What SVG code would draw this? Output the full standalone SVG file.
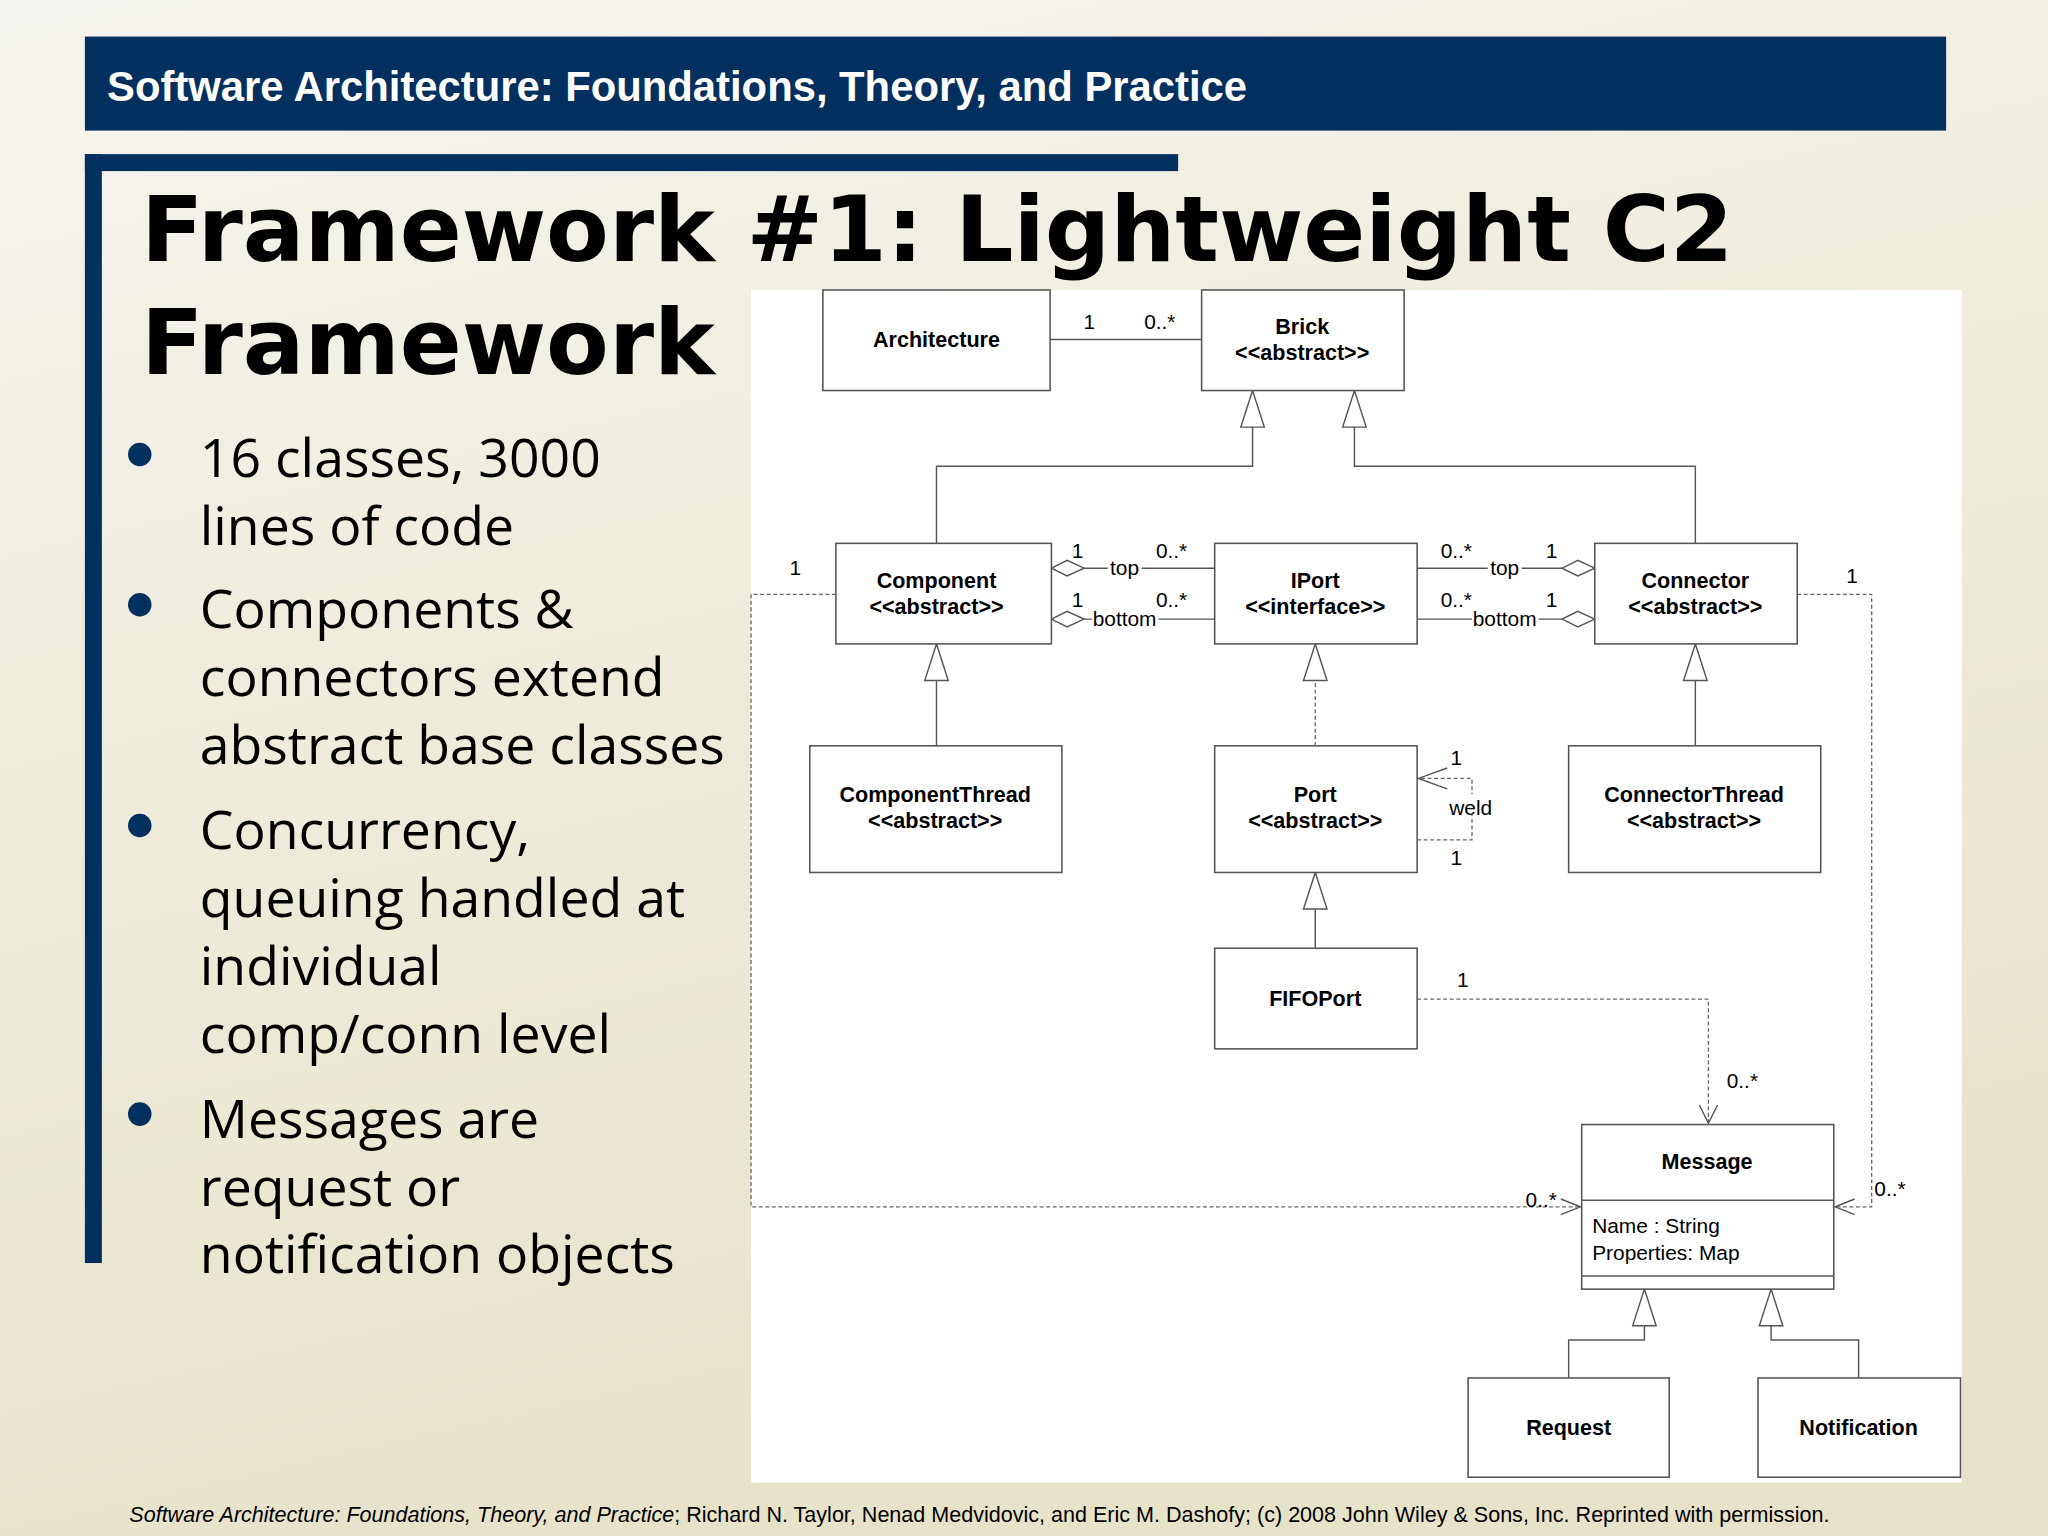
<svg xmlns="http://www.w3.org/2000/svg" width="2048" height="1536" viewBox="0 0 2048 1536">
<defs>
<linearGradient id="bg" x1="0" y1="0" x2="0.3" y2="1"><stop offset="0" stop-color="#f6f4ee"/><stop offset="1" stop-color="#e7e3c9"/></linearGradient>
<style>
.b{fill:#fff;stroke:#555;stroke-width:1.2}
.l{fill:none;stroke:#555;stroke-width:1.1}
.d{fill:none;stroke:#666;stroke-width:1;stroke-dasharray:3 2}
.n{font-family:"Liberation Sans",Arial,sans-serif;font-size:16.5px;font-weight:bold;text-anchor:middle;fill:#000}
.s{font-family:"Liberation Sans",Arial,sans-serif;font-size:16px;fill:#000}
.m{text-anchor:middle}
.bl{font-family:"Open Sans","DejaVu Sans",sans-serif;font-size:41px;fill:#000}
.tri{fill:#fff;stroke:#555;stroke-width:1.1}
</style>
</defs>
<rect width="2048" height="1536" fill="url(#bg)"/>
<g transform="scale(1.306122)">
<g id="header">
<rect x="65" y="28" width="1425" height="72" fill="#03305e"/>
<text x="82" y="77" font-family="Liberation Sans,Arial,sans-serif" font-weight="bold" font-size="32" fill="#fff">Software Architecture: Foundations, Theory, and Practice</text>
<rect x="65" y="118" width="837" height="13" fill="#03305e"/>
<rect x="65" y="118" width="13" height="849" fill="#03305e"/>
</g>
<g id="title" font-family="DejaVu Sans,Verdana,sans-serif" font-weight="bold" font-size="70">
<text x="108" y="200">Framework #1: Lightweight C2</text>
<text x="108" y="286">Framework</text>
</g>
<g id="bullets">
<circle cx="107" cy="348" r="9" fill="#03305e"/><circle cx="107" cy="463" r="9" fill="#03305e"/><circle cx="107" cy="632" r="9" fill="#03305e"/><circle cx="107" cy="853" r="9" fill="#03305e"/>
<text class="bl" x="153" y="365">16 classes, 3000</text>
<text class="bl" x="153" y="417">lines of code</text>
<text class="bl" x="153" y="481">Components &amp;</text>
<text class="bl" x="153" y="533">connectors extend</text>
<text class="bl" x="153" y="585">abstract base classes</text>
<text class="bl" x="153" y="650">Concurrency,</text>
<text class="bl" x="153" y="702">queuing handled at</text>
<text class="bl" x="153" y="754">individual</text>
<text class="bl" x="153" y="806">comp/conn level</text>
<text class="bl" x="153" y="871">Messages are</text>
<text class="bl" x="153" y="923">request or</text>
<text class="bl" x="153" y="975">notification objects</text>
</g>
<rect x="575" y="222" width="927" height="913" fill="#fff"/>
<g id="connectors">
<path class="l" d="M804,260H920"/>
<path class="l" d="M717,416V357H959V327"/><path class="tri" d="M959,299L950,327H968Z"/>
<path class="l" d="M1298,416V357H1037V327"/><path class="tri" d="M1037,299L1028,327H1046Z"/>
<path class="l" d="M830,435H930M830,474H930"/>
<path class="tri" d="M805,435L817,429L830,435L817,441Z M805,474L817,468L830,474L817,480Z"/>
<path class="l" d="M1085,435H1196M1085,474H1196"/>
<path class="tri" d="M1221,435L1208,429L1196,435L1208,441Z M1221,474L1208,468L1196,474L1208,480Z"/>
<path class="l" d="M717,571V521"/><path class="tri" d="M717,493L708,521H726Z"/>
<path class="d" d="M1007,571V521"/><path class="tri" d="M1007,493L998,521H1016Z"/>
<path class="l" d="M1298,571V521"/><path class="tri" d="M1298,493L1289,521H1307Z"/>
<path class="l" d="M1007,726V696"/><path class="tri" d="M1007,668L998,696H1016Z"/>
<path class="d" d="M1085,643H1127V596H1086"/><path class="l" d="M1108,588L1086,596L1108,604"/>
<path class="d" d="M1085,765H1308V860"/><path class="l" d="M1301,846L1308,860L1315,846"/>
<path class="d" d="M640,455H575V924H1210"/><path class="l" d="M1195,918L1210,924L1195,930"/>
<path class="d" d="M1376,455H1433V924H1405"/><path class="l" d="M1420,918L1405,924L1420,930"/>
<path class="l" d="M1201,1055V1026H1259V1015"/><path class="tri" d="M1259,987L1250,1015H1268Z"/>
<path class="l" d="M1423,1055V1026H1356V1015"/><path class="tri" d="M1356,987L1347,1015H1365Z"/>
<g class="s">
<text x="834" y="252" class="m">1</text><text x="888" y="252" class="m">0..*</text>
<text x="825" y="427" class="m">1</text><text x="897" y="427" class="m">0..*</text>
<text x="825" y="465" class="m">1</text><text x="897" y="465" class="m">0..*</text>
<text x="1115" y="427" class="m">0..*</text><text x="1188" y="427" class="m">1</text>
<text x="1115" y="465" class="m">0..*</text><text x="1188" y="465" class="m">1</text>
<text x="1115" y="586" class="m">1</text><text x="1115" y="662" class="m">1</text>
<text x="1120" y="756" class="m">1</text><text x="1334" y="833" class="m">0..*</text>
<text x="609" y="440" class="m">1</text><text x="1180" y="924" class="m">0..*</text>
<text x="1418" y="446" class="m">1</text><text x="1447" y="916" class="m">0..*</text>
</g>
<g class="s">
<rect x="848" y="426" width="26" height="16" fill="#fff"/><text x="861" y="440" class="m">top</text>
<rect x="836" y="465" width="51" height="16" fill="#fff"/><text x="861" y="479" class="m">bottom</text>
<rect x="1139" y="426" width="26" height="16" fill="#fff"/><text x="1152" y="440" class="m">top</text>
<rect x="1127" y="465" width="51" height="16" fill="#fff"/><text x="1152" y="479" class="m">bottom</text>
<rect x="1108" y="608" width="36" height="16" fill="#fff"/><text x="1126" y="624" class="m">weld</text>
</g>
</g>
<g id="architecture"><rect class="b" x="630" y="222" width="174" height="77"/><text class="n" x="717" y="266">Architecture</text></g>
<g id="brick"><rect class="b" x="920" y="222" width="155" height="77"/><text class="n" x="997" y="256">Brick</text><text class="n" x="997" y="276">&lt;&lt;abstract&gt;&gt;</text></g>
<g id="component"><rect class="b" x="640" y="416" width="165" height="77"/><text class="n" x="717" y="450">Component</text><text class="n" x="717" y="470">&lt;&lt;abstract&gt;&gt;</text></g>
<g id="iport"><rect class="b" x="930" y="416" width="155" height="77"/><text class="n" x="1007" y="450">IPort</text><text class="n" x="1007" y="470">&lt;&lt;interface&gt;&gt;</text></g>
<g id="connector"><rect class="b" x="1221" y="416" width="155" height="77"/><text class="n" x="1298" y="450">Connector</text><text class="n" x="1298" y="470">&lt;&lt;abstract&gt;&gt;</text></g>
<g id="componentthread"><rect class="b" x="620" y="571" width="193" height="97"/><text class="n" x="716" y="614">ComponentThread</text><text class="n" x="716" y="634">&lt;&lt;abstract&gt;&gt;</text></g>
<g id="port"><rect class="b" x="930" y="571" width="155" height="97"/><text class="n" x="1007" y="614">Port</text><text class="n" x="1007" y="634">&lt;&lt;abstract&gt;&gt;</text></g>
<g id="connectorthread"><rect class="b" x="1201" y="571" width="193" height="97"/><text class="n" x="1297" y="614">ConnectorThread</text><text class="n" x="1297" y="634">&lt;&lt;abstract&gt;&gt;</text></g>
<g id="fifoport"><rect class="b" x="930" y="726" width="155" height="77"/><text class="n" x="1007" y="770">FIFOPort</text></g>
<g id="message"><rect class="b" x="1211" y="861" width="193" height="126"/><path class="l" d="M1211,919H1404M1211,977H1404"/><text class="n" x="1307" y="895">Message</text>
<text class="s" x="1219" y="944">Name : String</text><text class="s" x="1219" y="965">Properties: Map</text></g>
<g id="request"><rect class="b" x="1124" y="1055" width="154" height="76"/><text class="n" x="1201" y="1099">Request</text></g>
<g id="notification"><rect class="b" x="1346" y="1055" width="155" height="76"/><text class="n" x="1423" y="1099">Notification</text></g>
<text x="99" y="1165" font-family="Liberation Sans,Arial,sans-serif" font-size="16.5" fill="#000"><tspan font-style="italic">Software Architecture: Foundations, Theory, and Practice</tspan>; Richard N. Taylor, Nenad Medvidovic, and Eric M. Dashofy; (c) 2008 John Wiley &amp; Sons, Inc. Reprinted with permission.</text>
</g>
</svg>
